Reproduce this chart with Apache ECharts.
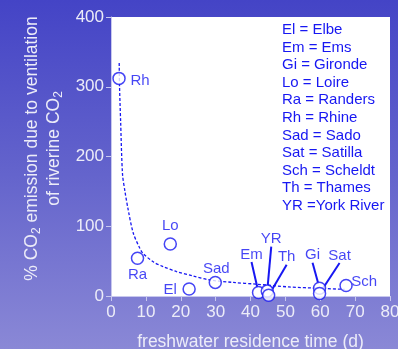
<!DOCTYPE html>
<html>
<head>
<meta charset="utf-8">
<script src="https://cdn.jsdelivr.net/npm/echarts@6/dist/echarts.min.js"></script>
<style>
html,body{margin:0;padding:0;}
#c{width:398px;height:349px;background:linear-gradient(180deg,#4444c6 0%,#6464cc 50%,#8a88d6 100%);}
</style>
</head>
<body>
<div id="c"></div>
<script>
// ---- data ----
var names = ['Rh','Ra','Lo','El','Sad','Em','YR','Th','Gi','Sat','Sch'];
var residence = [2.3, 7.6, 17.0, 22.4, 29.9, 42.3, 44.8, 45.2, 59.8, 59.8, 67.4];
var ventilation = [312, 54, 74.5, 10, 19.5, 5, 7, 1, 11, 3.5, 15];
var fitX = [2.35, 2.45, 2.75, 3.3, 4.0, 4.95, 6.4, 8.3, 9.2, 12.1, 15, 18.8, 23.5, 28.3, 35, 41.6, 51, 60, 67];
var fitY = [334, 300, 252, 175, 150, 123, 90, 68, 61, 49, 42, 35, 28.7, 23, 19.5, 17, 13, 11, 9.5];
var abbrev = ['El','Em','Gi','Lo','Ra','Rh','Sad','Sat','Sch','Th','YR'];
var fullNames = ['Elbe','Ems','Gironde','Loire','Randers','Rhine','Sado','Satilla','Scheldt','Thames','York River'];
var xTicks = {min:0, max:80, interval:10};
var yTicks = {min:0, max:400, interval:100};

// ---- label placement (styling) ----
var labelOffset = {
  Rh:[21,2], Ra:[0,17], Lo:[0,-18], El:[-19,1], Sad:[1,-14],
  Em:[-7,-38], YR:[4,-52], Th:[18,-38], Gi:[-7,-33], Sat:[20,-38], Sch:[18,-4]
};
var withLine = {Em:1, YR:1, Th:1, Gi:1, Sat:1};

var BLUE = '#1717f2';
var AX = '#ececf8';
var chart = echarts.init(document.getElementById('c'));

var scatterData = names.map(function(n,i){
  var item = {name:n, value:[residence[i], ventilation[i]]};
  if (withLine[n]) item.labelLine = {show:true, lineStyle:{color:BLUE, width:2}};
  return item;
});
var fitData = fitX.map(function(x,i){ return [x, fitY[i]]; });

var legendText = abbrev.map(function(a,i){
  return a + (a==='YR' ? ' =' : ' = ') + fullNames[i];
}).join('\n');

chart.setOption({
  backgroundColor: 'transparent',
  animation: false,
  grid: {left:111, right:8, top:17, bottom:53, show:true, backgroundColor:'#ffffff', borderWidth:0,
         containLabel:false, outerBoundsMode:'none'},
  xAxis: {
    type:'value', min:xTicks.min, max:xTicks.max, interval:xTicks.interval,
    splitLine:{show:false},
    axisLine:{show:true, lineStyle:{color:'#c8c8ee', width:1}},
    axisTick:{show:true, length:5, lineStyle:{color:'#c8c8ee'}},
    axisLabel:{color:AX, fontSize:17, fontFamily:'Liberation Sans, Arial', margin:8},
    name:'freshwater residence time (d)', nameLocation:'middle', nameGap:37,
    nameTextStyle:{color:AX, fontSize:17.5, fontFamily:'Liberation Sans, Arial'}
  },
  yAxis: {
    type:'value', min:yTicks.min, max:yTicks.max, interval:yTicks.interval,
    splitLine:{show:false},
    axisLine:{show:true, lineStyle:{color:'#c8c8ee', width:1}},
    axisTick:{show:true, length:5, lineStyle:{color:'#c8c8ee'}},
    axisLabel:{color:AX, fontSize:17, fontFamily:'Liberation Sans, Arial', margin:7},
    name:'{t|% CO}{s|2}{t| emission due to ventilation}\n{t|of riverine CO}{s|2}',
    nameLocation:'middle', nameGap:41, nameRotate:90,
    nameTextStyle:{
      color:AX, fontSize:17.5, fontFamily:'Liberation Sans, Arial', align:'center', lineHeight:22,
      padding:[0,0,0,16],
      rich:{
        t:{color:AX, fontSize:17.5, fontFamily:'Liberation Sans, Arial', lineHeight:22},
        s:{color:AX, fontSize:12, fontFamily:'Liberation Sans, Arial', lineHeight:22, verticalAlign:'bottom'}
      }
    }
  },
  series: [
    {
      type:'line', data:fitData, smooth:0.3, showSymbol:false, symbol:'none',
      lineStyle:{color:BLUE, width:1.3, type:[3,2]}, z:2, silent:true
    },
    {
      type:'scatter', data:scatterData, symbol:'circle', symbolSize:12, z:3,
      itemStyle:{color:'#ffffff', borderColor:BLUE, borderWidth:1.5},
      label:{show:true, position:'inside', formatter:'{b}', color:BLUE, fontSize:15,
             fontFamily:'Liberation Sans, Arial', align:'center', verticalAlign:'middle'},
      labelLayout:function(p){
        var o = labelOffset[names[p.dataIndex]];
        return {dx:o[0], dy:o[1]};
      }
    }
  ],
  graphic: [
    {type:'text', left:282, top:21, z:10,
     style:{text:legendText, fill:BLUE, fontSize:15, fontFamily:'Liberation Sans, Arial', lineHeight:17.6}}
  ]
});
</script>
</body>
</html>
